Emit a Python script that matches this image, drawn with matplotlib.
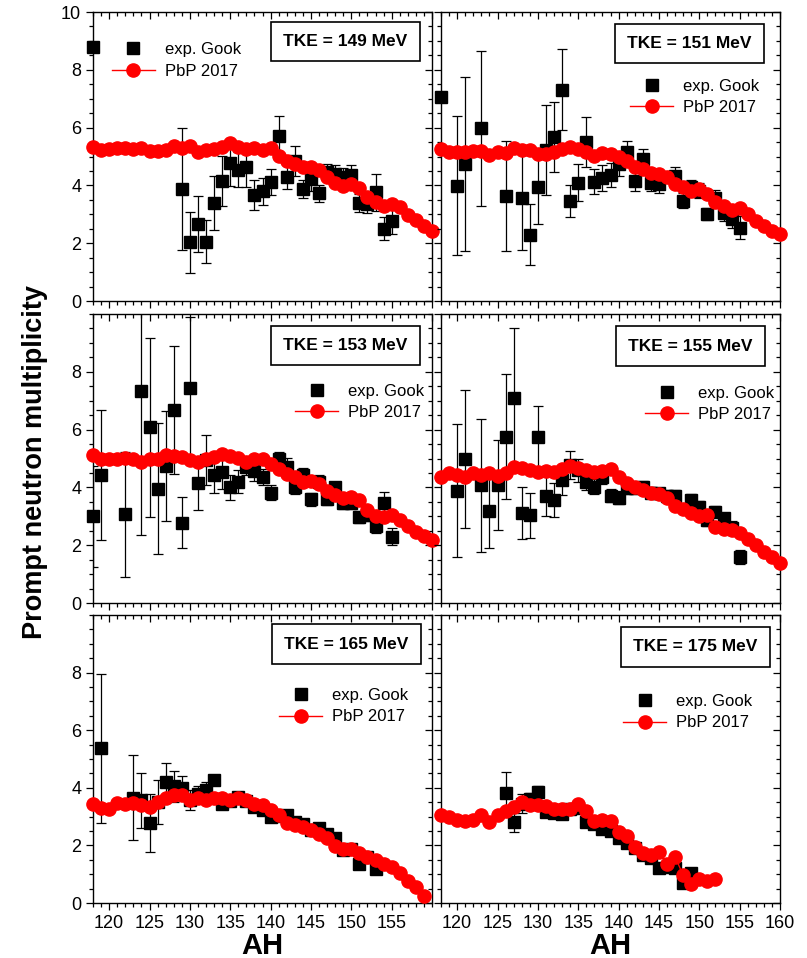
import numpy as np
import matplotlib; matplotlib.use("Agg")
import matplotlib.pyplot as plt
from matplotlib.ticker import MultipleLocator

plt.rcParams['font.family'] = ['Liberation Sans', 'DejaVu Sans']

# PbP 2017 calculation, A_H = 118, 119, ... (one value per mass number)
pbp_149 = [5.34, 5.22, 5.26, 5.30, 5.28, 5.27, 5.30, 5.20, 5.18, 5.24, 5.36, 5.30, 5.38, 5.17, 5.22,
           5.27, 5.33, 5.45, 5.33, 5.25, 5.30, 5.22, 5.28, 5.03, 4.86, 4.74, 4.65, 4.63, 4.53, 4.28,
           4.10, 3.99, 4.05, 3.91, 3.59, 3.42, 3.30, 3.36, 3.24, 2.99, 2.80, 2.61, 2.43]
pbp_151 = [5.26, 5.14, 5.16, 5.14, 5.20, 5.20, 5.06, 5.14, 5.12, 5.28, 5.23, 5.23, 5.08, 5.08, 5.14,
           5.26, 5.34, 5.26, 5.14, 5.03, 5.12, 5.10, 5.00, 4.83, 4.62, 4.57, 4.43, 4.40, 4.30, 4.05,
           3.93, 3.82, 3.88, 3.71, 3.42, 3.27, 3.15, 3.22, 3.01, 2.78, 2.61, 2.41, 2.32]
pbp_153 = [5.12, 5.00, 4.97, 5.00, 5.03, 5.00, 4.89, 5.00, 4.97, 5.12, 5.08, 5.06, 4.94, 4.89, 4.97,
           5.06, 5.15, 5.08, 5.03, 4.89, 4.99, 4.99, 4.82, 4.65, 4.48, 4.37, 4.20, 4.23, 4.12, 3.89,
           3.74, 3.62, 3.68, 3.56, 3.22, 3.01, 2.99, 3.05, 2.88, 2.67, 2.45, 2.33, 2.19]
pbp_155 = [4.37, 4.49, 4.43, 4.37, 4.51, 4.43, 4.49, 4.40, 4.49, 4.72, 4.66, 4.60, 4.54, 4.58, 4.54,
           4.63, 4.74, 4.68, 4.60, 4.54, 4.58, 4.62, 4.37, 4.16, 4.02, 3.91, 3.79, 3.77, 3.62, 3.36,
           3.24, 3.13, 3.01, 3.05, 2.64, 2.55, 2.52, 2.41, 2.20, 2.01, 1.78, 1.59, 1.40]
pbp_165 = [3.45, 3.31, 3.28, 3.47, 3.45, 3.47, 3.39, 3.34, 3.51, 3.63, 3.74, 3.74, 3.57, 3.65, 3.57,
           3.63, 3.65, 3.57, 3.63, 3.57, 3.45, 3.39, 3.22, 3.05, 2.78, 2.70, 2.64, 2.55, 2.41, 2.27,
           1.97, 1.86, 1.86, 1.74, 1.60, 1.49, 1.37, 1.26, 1.05, 0.77, 0.54, 0.24]
pbp_175 = [3.04, 2.99, 2.87, 2.84, 2.87, 3.04, 2.82, 3.04, 3.19, 3.33, 3.50, 3.42, 3.42, 3.36, 3.28,
           3.28, 3.28, 3.45, 3.19, 2.85, 2.87, 2.84, 2.47, 2.33, 1.93, 1.75, 1.66, 1.78, 1.37, 1.60,
           0.97, 0.66, 0.82, 0.76, 0.85]

# exp. Gook: mass number, multiplicity, error
gook_149_A = [118, 129, 130, 131, 132, 133, 134, 135, 136, 137, 138, 139, 140, 141, 142, 143, 144,
              145, 146, 147, 148, 149, 150, 151, 152, 153, 154, 155]
gook_149_v = [8.78, 3.88, 2.03, 2.66, 2.05, 3.39, 4.16, 4.77, 4.55, 4.63, 3.68, 3.79, 4.13, 5.72,
              4.30, 4.86, 3.88, 4.22, 3.72, 4.45, 4.39, 4.30, 4.36, 3.39, 3.36, 3.76, 2.50, 2.78]
gook_149_e = [0.00, 2.10, 1.05, 0.96, 0.75, 0.94, 0.86, 0.80, 0.62, 0.70, 0.52, 0.48, 0.45, 0.69,
              0.42, 0.52, 0.32, 0.40, 0.30, 0.30, 0.30, 0.30, 0.35, 0.30, 0.30, 0.65, 0.40, 0.45]

gook_151_A = [118, 120, 121, 123, 126, 128, 129, 130, 131, 132, 133, 134, 135, 136, 137, 138, 139,
              140, 141, 142, 143, 144, 145, 147, 148, 149, 150, 151, 152, 153, 154, 155]
gook_151_v = [7.05, 3.99, 4.74, 5.97, 3.64, 3.58, 2.30, 3.95, 5.23, 5.68, 7.31, 3.47, 4.10, 5.51,
              4.13, 4.24, 4.35, 4.74, 5.14, 4.16, 4.90, 4.10, 4.05, 4.34, 3.47, 3.93, 3.82, 3.01,
              3.58, 3.03, 2.84, 2.53]
gook_151_e = [0.00, 2.40, 3.00, 2.67, 1.90, 1.80, 1.04, 1.30, 1.55, 1.20, 1.40, 0.55, 0.63, 0.86,
              0.43, 0.45, 0.42, 0.40, 0.40, 0.35, 0.35, 0.30, 0.30, 0.28, 0.25, 0.25, 0.25, 0.22,
              0.25, 0.25, 0.30, 0.40]

gook_153_A = [118, 119, 122, 124, 125, 126, 127, 128, 129, 130, 131, 132, 133, 134, 135, 136, 137,
              138, 139, 140, 141, 142, 143, 144, 145, 146, 147, 148, 149, 150, 151, 152, 153, 154, 155]
gook_153_v = [3.00, 4.43, 3.07, 7.35, 6.08, 3.96, 4.75, 6.68, 2.78, 7.45, 4.14, 4.96, 4.43, 4.54,
              4.00, 4.20, 4.72, 4.58, 4.37, 3.82, 4.97, 4.72, 4.03, 4.43, 3.59, 4.20, 3.59, 4.00,
              3.45, 3.45, 2.98, 3.04, 2.67, 3.45, 2.29]
gook_153_e = [1.75, 2.26, 2.17, 5.00, 3.10, 2.28, 1.90, 2.23, 0.88, 2.45, 0.92, 0.86, 0.62, 0.60,
              0.43, 0.40, 0.30, 0.35, 0.28, 0.25, 0.25, 0.30, 0.25, 0.25, 0.22, 0.22, 0.20, 0.20,
              0.20, 0.20, 0.20, 0.20, 0.25, 0.40, 0.30]

gook_155_A = [120, 121, 123, 124, 125, 126, 127, 128, 129, 130, 131, 132, 133, 134, 135, 136, 137,
              138, 139, 140, 141, 142, 143, 144, 145, 146, 147, 149, 150, 151, 152, 153, 154, 155]
gook_155_v = [3.89, 4.99, 4.08, 3.19, 4.08, 5.76, 7.11, 3.10, 3.04, 5.76, 3.70, 3.56, 4.25, 4.77,
              4.60, 4.20, 4.03, 4.37, 3.71, 3.65, 3.97, 3.97, 4.03, 3.82, 3.79, 3.70, 3.70, 3.56,
              3.33, 2.87, 3.16, 2.93, 2.59, 1.60]
gook_155_e = [2.30, 2.38, 2.30, 1.30, 1.57, 2.16, 2.40, 0.90, 0.78, 1.05, 0.70, 0.58, 0.52, 0.48,
              0.40, 0.30, 0.25, 0.25, 0.22, 0.22, 0.20, 0.20, 0.20, 0.20, 0.20, 0.20, 0.20, 0.20,
              0.20, 0.20, 0.20, 0.20, 0.25, 0.25]

gook_165_A = [119, 123, 124, 125, 126, 127, 128, 129, 130, 131, 132, 133, 134, 135, 136, 137, 138,
              139, 140, 141, 142, 143, 144, 145, 146, 147, 148, 149, 150, 151, 152, 153]
gook_165_v = [5.37, 3.66, 3.57, 2.78, 3.51, 4.20, 4.05, 3.99, 3.57, 3.80, 3.94, 4.26, 3.45, 3.53,
              3.68, 3.53, 3.34, 3.22, 2.99, 3.01, 3.05, 2.82, 2.76, 2.53, 2.59, 2.41, 2.24, 1.83,
              1.89, 1.37, 1.60, 1.17]
gook_165_e = [2.58, 1.48, 0.96, 1.00, 0.75, 0.65, 0.55, 0.42, 0.35, 0.25, 0.25, 0.15, 0.12, 0.12,
              0.12, 0.12, 0.10, 0.10, 0.10, 0.10, 0.10, 0.10, 0.10, 0.10, 0.10, 0.10, 0.10, 0.10,
              0.10, 0.10, 0.10, 0.10]

gook_175_A = [126, 127, 128, 129, 130, 131, 132, 133, 134, 135, 136, 137, 138, 139, 140, 141, 142,
              143, 144, 145, 146, 147, 148, 149]
gook_175_v = [3.82, 2.81, 3.45, 3.62, 3.87, 3.16, 3.12, 3.08, 3.28, 3.30, 2.81, 2.73, 2.58, 2.50,
              2.25, 2.07, 1.90, 1.65, 1.55, 1.20, 1.25, 1.20, 0.68, 1.04]
gook_175_e = [0.74, 0.33, 0.33, 0.20, 0.20, 0.12, 0.10, 0.10, 0.10, 0.10, 0.10, 0.10, 0.10, 0.10,
              0.10, 0.10, 0.10, 0.10, 0.10, 0.10, 0.10, 0.10, 0.10, 0.10]

tke = [149, 151, 153, 155, 165, 175]
pbp = [pbp_149, pbp_151, pbp_153, pbp_155, pbp_165, pbp_175]
gook = [(gook_149_A, gook_149_v, gook_149_e), (gook_151_A, gook_151_v, gook_151_e),
        (gook_153_A, gook_153_v, gook_153_e), (gook_155_A, gook_155_v, gook_155_e),
        (gook_165_A, gook_165_v, gook_165_e), (gook_175_A, gook_175_v, gook_175_e)]

# legend anchor (handle start, middle) and TKE box centre, in axes fraction
leg_pos = [(0.055, 0.832), (0.558, 0.706), (0.596, 0.696), (0.602, 0.689), (0.549, 0.684), (0.537, 0.663)]
box_pos = [(0.745, 0.898), (0.733, 0.891), (0.745, 0.891), (0.735, 0.889), (0.748, 0.899), (0.75, 0.889)]

fig = plt.figure(figsize=(8.07, 9.58), dpi=100)
W, H = 807, 958
cols = [93, 441]
rows = [(12, 301), (314, 603), (615, 903)]

for i in range(6):
    r, c = divmod(i, 2)
    top, bot = rows[r]
    ax = fig.add_axes([cols[c] / W, (H - bot) / H, 339 / W, (bot - top) / H])
    A, v, e = gook[i]
    ax.errorbar(A, v, yerr=e, fmt="none", ecolor="black", elinewidth=0.9, capsize=3.5,
                capthick=0.9, zorder=2)
    hs, = ax.plot(A, v, "s", color="black", ms=8.5, ls="none", label="exp. Gook", zorder=3,
                  clip_on=False)
    pA = np.arange(118, 118 + len(pbp[i]))
    hp, = ax.plot(pA, pbp[i], "-o", color="red", lw=1.0, ms=9.5, label="PbP 2017", zorder=4,
                  clip_on=False)

    ax.set_xlim(118, 160)
    ax.set_ylim(0, 10)
    ax.xaxis.set_major_locator(MultipleLocator(5))
    ax.xaxis.set_minor_locator(MultipleLocator(1))
    ax.yaxis.set_major_locator(MultipleLocator(2))
    ax.yaxis.set_minor_locator(MultipleLocator(0.5))
    ax.tick_params(which="both", top=True, right=True, direction="out", labelsize=13, width=0.9)
    ax.tick_params(which="major", length=5)
    ax.tick_params(which="minor", length=3)
    for sp in ax.spines.values():
        sp.set_linewidth(1.0)

    if c == 0:
        if r == 0:
            ax.set_yticks([0, 2, 4, 6, 8, 10])
        else:
            ax.set_yticks([0, 2, 4, 6, 8])
            ax.set_yticks(np.arange(0, 10.01, 0.5), minor=True)
    else:
        ax.set_yticklabels([])
    if r == 2:
        if c == 0:
            ax.set_xticks([120, 125, 130, 135, 140, 145, 150, 155])
        else:
            ax.set_xticks([120, 125, 130, 135, 140, 145, 150, 155, 160])
        ax.set_xlabel("AH", fontsize=21, fontweight="bold", labelpad=0)
    else:
        ax.set_xticklabels([])
    # top / right ticks point inwards
    for t in ax.xaxis.get_major_ticks() + ax.xaxis.get_minor_ticks():
        t.tick2line.set_marker(3)
    for t in ax.yaxis.get_major_ticks() + ax.yaxis.get_minor_ticks():
        t.tick2line.set_marker(0)

    lx, ly = leg_pos[i]
    ax.legend(handles=[hs, hp], loc="center left", bbox_to_anchor=(lx, ly), frameon=False,
              fontsize=12, borderpad=0, borderaxespad=0, handlelength=2.6, handletextpad=0.6,
              labelspacing=0.4)
    bx, by = box_pos[i]
    ax.text(bx, by, f"TKE = {tke[i]} MeV", transform=ax.transAxes, ha="center", va="center",
            fontsize=12.5, fontweight="bold",
            bbox=dict(boxstyle="square,pad=0.7", fc="white", ec="black", lw=1.2), zorder=6)

fig.text(35 / W, (H - 462) / H, "Prompt neutron multiplicity", rotation=90, ha="center",
         va="center", fontsize=19.5, fontweight="bold")
plt.savefig("out.png", dpi=100)
